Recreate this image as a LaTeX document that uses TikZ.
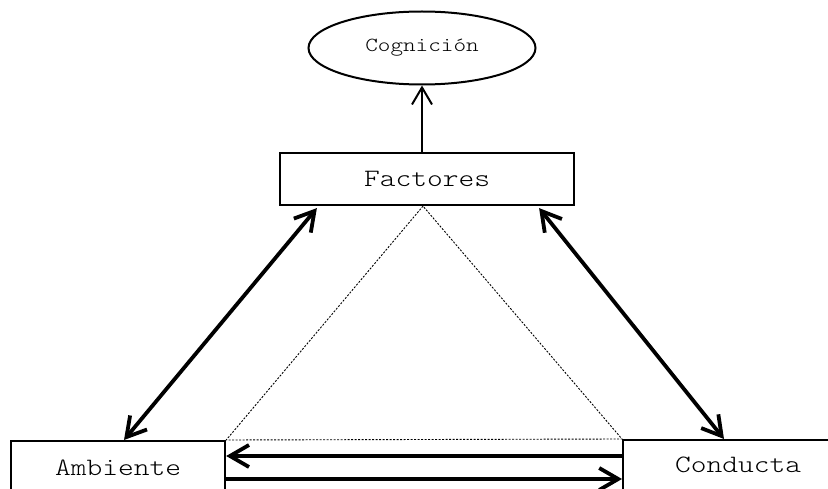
\documentclass[tikz,border=0pt]{standalone}
\usepackage{fontspec}
\newfontfamily\typefont[FakeStretch=1.2]{Latin Modern Mono Light}
\usetikzlibrary{shapes.geometric,arrows.meta,calc}
\tikzset{
  box/.style={draw, line width=2.2pt, rectangle, inner sep=0pt,
              font=\typefont\fontsize{25}{30}\selectfont},
  oval/.style={draw, line width=2pt, ellipse, inner sep=0pt,
               font=\typefont\fontsize{20}{24}\selectfont},
  bond/.style={line width=3.8pt, {Straight Barb[length=19pt,width=22pt]}-{Straight Barb[length=19pt,width=22pt]}},
  flow/.style={line width=3.8pt, -{Straight Barb[length=19pt,width=22pt]}},
  lift/.style={line width=2pt, -{Straight Barb[length=17pt,width=20pt]}},
  guide/.style={line width=0.9pt, dash pattern=on 2pt off 1.5pt}
}
\begin{document}
\begin{tikzpicture}[x=1pt,y=-1pt]
  \useasboundingbox (0,0) rectangle (828,489);
  \clip (0,0) rectangle (828,489);

  % nodes
  \node[oval, minimum width=227pt, minimum height=73pt] (cog) at (422,48) {Cognición};
  \node[box, minimum width=294pt, minimum height=52pt] (fac) at (427,179) {Factores};
  \node[box, anchor=north west, minimum width=214pt, minimum height=54pt] (amb) at (10,440) {Ambiente};
  \node[box, anchor=north west, minimum width=230pt, minimum height=52pt, text depth=2pt] (con) at (622,439) {Conducta};

  % contact points on the borders
  \coordinate (facL) at ($(fac.south west)+(38,2)$);
  \coordinate (facR) at ($(fac.south east)+(-36,2)$);
  \coordinate (ambT) at ($(amb.north west)+(114,0)$);
  \coordinate (conT) at ($(con.north west)+(102,0)$);
  \coordinate (apex) at ($(cog.south |- fac.south)+(1,0)$);

  % dotted triangle
  \draw[guide] (apex) -- (amb.north east) -- (con.north west) -- cycle;

  % connectors
  \draw[lift] (cog.south |- fac.north) -- (cog.south);
  \draw[bond] (facL) -- (ambT);
  \draw[bond] (facR) -- (conT);
  \draw[flow] ($(con.north west)+(0,17)$) -- ($(amb.north east)+(0,16)$);
  \draw[flow] ($(amb.north east)+(0,39)$) -- ($(con.north west)+(0,40)$);
\end{tikzpicture}
\end{document}
